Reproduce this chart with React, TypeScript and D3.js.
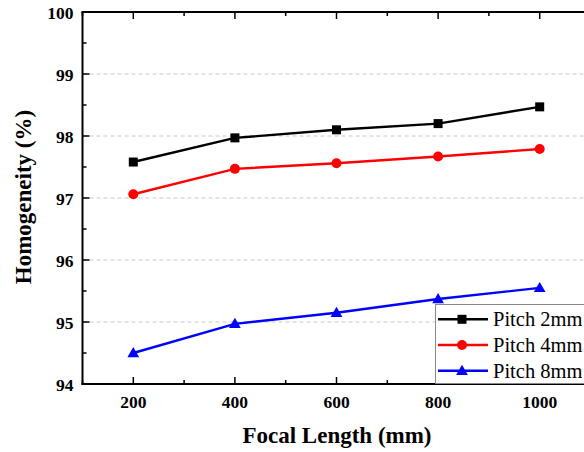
import React from "react";
import * as d3 from "d3";

const focalLengths = [200, 400, 600, 800, 1000];
const pitch2mm = [97.58, 97.97, 98.1, 98.2, 98.47];
const pitch4mm = [97.06, 97.47, 97.56, 97.67, 97.79];
const pitch8mm = [94.5, 94.97, 95.15, 95.37, 95.55];
const seriesNames = ["Pitch 2mm", "Pitch 4mm", "Pitch 8mm"];
const seriesColors = ["#000000", "#ff0000", "#0000ff"];
const seriesShapes = ["square", "circle", "triangle"];
const xTicks = [200, 400, 600, 800, 1000];
const yTicks = [94, 95, 96, 97, 98, 99, 100];

const W = 584, H = 452;
const L = 82.5, T = 12, B = 384;

export default function App() {
  const x = d3.scaleLinear().domain([100, 1100]).range([L, L + 508]);
  const y = d3.scaleLinear().domain([94, 100]).range([B, T]);
  const series = [pitch2mm, pitch4mm, pitch8mm];
  const line = d3.line<number>().x((_, i) => x(focalLengths[i])).y((v) => y(v));
  const font = "'Liberation Serif', 'Times New Roman', serif";

  const marker = (shape: string, cx: number, cy: number, color: string, key: string) => {
    if (shape === "square") return <rect key={key} x={cx - 4.5} y={cy - 4.5} width={9} height={9} fill={color} />;
    if (shape === "circle") return <circle key={key} cx={cx} cy={cy} r={5} fill={color} />;
    const p = d3.symbol(d3.symbolTriangle, 60)();
    return <path key={key} d={p || ""} transform={`translate(${cx},${cy + 0.8})`} fill={color} />;
  };

  const minorX = d3.range(100, 1101, 100).filter((v) => v % 200 !== 0);
  const minorY = d3.range(94.5, 100, 1);

  return (
    <svg width={W} height={H} style={{ position: "absolute", left: 0, top: 0, background: "#fff" }} fontFamily={font}>
      {/* grid */}
      {yTicks.filter((v) => v > 94 && v < 100).map((v) => (
        <line key={"g" + v} x1={L} x2={W} y1={y(v)} y2={y(v)} stroke="#c8c8c8" strokeDasharray="4,3" strokeWidth={1} />
      ))}
      {/* series */}
      {series.map((s, si) => (
        <g key={"s" + si}>
          <path d={line(s) || ""} fill="none" stroke={seriesColors[si]} strokeWidth={2.4} />
          {s.map((v, i) => marker(seriesShapes[si], x(focalLengths[i]), y(v), seriesColors[si], `m${si}-${i}`))}
        </g>
      ))}
      {/* axes */}
      <line x1={L} x2={L} y1={T} y2={B + 1} stroke="#000" strokeWidth={2} />
      <line x1={L - 1} x2={W} y1={B} y2={B} stroke="#000" strokeWidth={2} />
      <line x1={L - 1} x2={W} y1={T} y2={T} stroke="#000" strokeWidth={2} />
      {yTicks.map((v) => (
        <g key={"yt" + v}>
          <line x1={L} x2={L + 7} y1={y(v)} y2={y(v)} stroke="#000" strokeWidth={1.5} />
          <text x={L - 9} y={y(v) + 6.5} textAnchor="end" fontSize={17.5} fontWeight="bold">{v}</text>
        </g>
      ))}
      {minorY.map((v) => (
        <line key={"ym" + v} x1={L} x2={L + 4} y1={y(v)} y2={y(v)} stroke="#000" strokeWidth={1.5} />
      ))}
      {xTicks.map((v) => (
        <g key={"xt" + v}>
          <line x1={x(v)} x2={x(v)} y1={B} y2={B - 7} stroke="#000" strokeWidth={1.5} />
          <line x1={x(v)} x2={x(v)} y1={T} y2={T + 7} stroke="#000" strokeWidth={1.5} />
          <text x={x(v)} y={B + 23.5} textAnchor="middle" fontSize={17.5} fontWeight="bold">{v}</text>
        </g>
      ))}
      {minorX.map((v) => (
        <g key={"xm" + v}>
          <line x1={x(v)} x2={x(v)} y1={B} y2={B - 4} stroke="#000" strokeWidth={1.5} />
          <line x1={x(v)} x2={x(v)} y1={T} y2={T + 4} stroke="#000" strokeWidth={1.5} />
        </g>
      ))}
      <text x={337} y={443} textAnchor="middle" fontSize={23} fontWeight="bold">Focal Length (mm)</text>
      <text transform={`translate(31,197) rotate(-90)`} textAnchor="middle" fontSize={23} fontWeight="bold">Homogeneity (%)</text>
      {/* legend */}
      <rect x={435.5} y={304.5} width={170} height={79} fill="#fff" stroke="#888" strokeWidth={1} />
      {seriesNames.map((n, i) => {
        const ly = 319.3 + i * 25.7;
        return (
          <g key={"l" + i}>
            <line x1={438} x2={488} y1={ly} y2={ly} stroke={seriesColors[i]} strokeWidth={2.4} />
            {marker(seriesShapes[i], 462, ly, seriesColors[i], "lm" + i)}
            <text x={493} y={ly + 7} fontSize={20.5}>{n}</text>
          </g>
        );
      })}
    </svg>
  );
}
